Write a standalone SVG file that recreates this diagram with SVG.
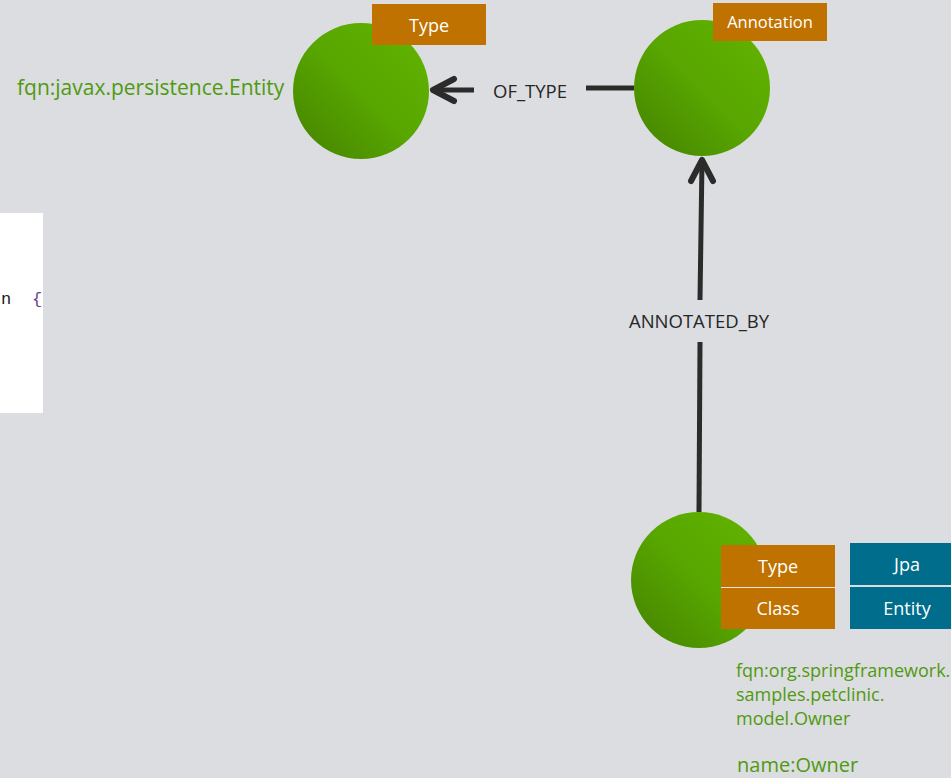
<svg xmlns="http://www.w3.org/2000/svg" width="951" height="778" viewBox="0 0 951 778">
<defs>
<linearGradient id="g" x1="0.15" y1="0.85" x2="0.85" y2="0.15">
<stop offset="0" stop-color="#4a8c00"/>
<stop offset="0.5" stop-color="#58a600"/>
<stop offset="1" stop-color="#5fb000"/>
</linearGradient>
<style>
.n{fill:url(#g)}
.lo{fill:#bf7200}
.lb{fill:#006d8c}
.lt{font-family:"Open Sans","Liberation Sans",sans-serif;fill:#ffffff;text-anchor:middle}
.pt{font-family:"Open Sans","Liberation Sans",sans-serif;fill:#4f9a10}
.el{font-family:"Open Sans","Liberation Sans",sans-serif;fill:#262626;font-size:18.5px;text-anchor:middle}
.ln{stroke:#2b2b2b;stroke-width:5;fill:none}
.ar{stroke:#2b2b2b;stroke-width:6;fill:none;stroke-linecap:round;stroke-linejoin:round}
</style>
</defs>
<rect width="951" height="778" fill="#dcdde0"/>
<g id="code">
<rect x="0" y="213" width="43" height="200" fill="#ffffff"/>
<text x="1" y="304" font-family="'Liberation Mono',monospace" font-size="17" fill="#1a1a1a">n</text>
<text x="32" y="304" font-family="'Liberation Mono',monospace" font-size="17" fill="#6a3e8a">{</text>
</g>
<g id="connectors">
<line class="ln" x1="634" y1="88" x2="586" y2="88"/>
<line class="ln" x1="474" y1="90" x2="434" y2="90"/>
<polyline class="ar" points="454,79 433,90 454,101"/>
<text class="el" x="530" y="98">OF_TYPE</text>
<line class="ln" x1="699" y1="512" x2="700" y2="342"/>
<line class="ln" x1="700" y1="300" x2="702" y2="161"/>
<polyline class="ar" points="691,181 702,160 713,181"/>
<text class="el" x="699" y="328">ANNOTATED_BY</text>
</g>
<g id="node-type">
<circle class="n" cx="361" cy="91" r="68"/>
<rect class="lo" x="372" y="4" width="114" height="41"/>
<text class="lt" x="429" y="32" font-size="18">Type</text>
<text class="pt" x="17" y="95" font-size="21">fqn:javax.persistence.Entity</text>
</g>
<g id="node-annotation">
<circle class="n" cx="702" cy="88" r="68"/>
<rect class="lo" x="713" y="3" width="114" height="38"/>
<text class="lt" x="770" y="28" font-size="16.5">Annotation</text>
</g>
<g id="node-owner">
<circle class="n" cx="699" cy="580" r="68"/>
<rect class="lo" x="721" y="545" width="114" height="42"/>
<rect class="lo" x="721" y="588" width="114" height="41"/>
<line x1="721" y1="587.5" x2="835" y2="587.5" stroke="#f0e6d8" stroke-width="1"/>
<text class="lt" x="778" y="573" font-size="18">Type</text>
<text class="lt" x="778" y="615" font-size="18">Class</text>
<rect class="lb" x="850" y="543" width="101" height="42"/>
<rect class="lb" x="850" y="587" width="101" height="42"/>
<text class="lt" x="907" y="571" font-size="18">Jpa</text>
<text class="lt" x="907" y="615" font-size="18">Entity</text>
<text class="pt" x="736" y="677" font-size="18">fqn:org.springframework.</text>
<text class="pt" x="736" y="701" font-size="18">samples.petclinic.</text>
<text class="pt" x="736" y="725" font-size="18">model.Owner</text>
<text class="pt" x="737" y="772" font-size="20">name:Owner</text>
</g>
</svg>
